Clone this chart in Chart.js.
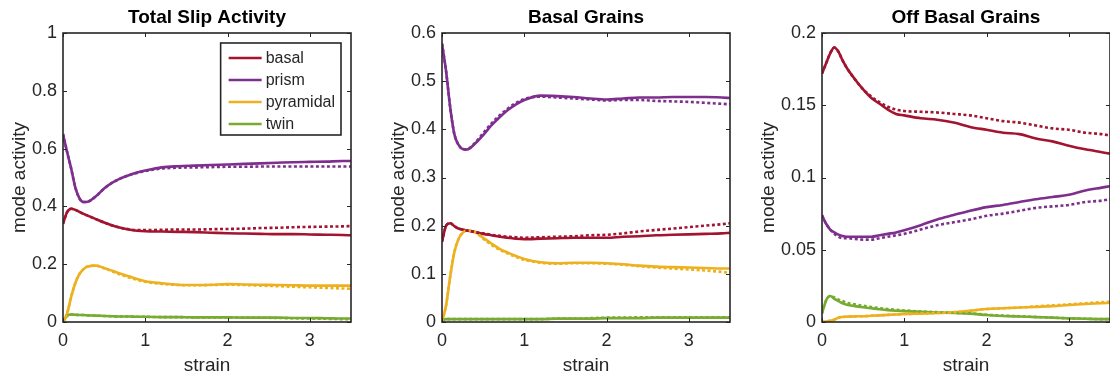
<!DOCTYPE html>
<html>
<head>
  <title>Slip Mode Activity</title>
  <script src="https://cdn.jsdelivr.net/npm/chart.js"></script>
  <style>
    body { margin: 0; width: 1110px; height: 377px; overflow: hidden; background: #fff; position: relative; }
    canvas { position: absolute; top: 0; }
  </style>
</head>
<body>
  <canvas id="totalChart"></canvas>
  <canvas id="basalChart"></canvas>
  <canvas id="offChart"></canvas>

<script>
// shared x values (strain) and tick labels
const strain = [0, 0.05, 0.1, 0.15, 0.2, 0.25, 0.3, 0.4, 0.5, 0.6, 0.7, 0.8, 0.9, 1.0,
  1.2, 1.4, 1.6, 1.8, 2.0, 2.2, 2.4, 2.6, 2.8, 3.0, 3.2, 3.4, 3.5];
const strainTicks = [0, 1, 2, 3];
const modes = ['basal', 'prism', 'pyramidal', 'twin'];
const modeColors = ['#A2142F', '#7E2F8E', '#EDB120', '#77AC30'];

// Total Slip Activity
const totalTicks = [0, 0.2, 0.4, 0.6, 0.8, 1];
const totalBasal = [0.34,0.38,0.392,0.388,0.381,0.374,0.368,0.356,0.344,0.334,0.326,0.32,0.316,0.314,0.313,0.312,0.311,0.309,0.307,0.306,0.305,0.304,0.304,0.303,0.302,0.301,0.300];
const totalBasalDot = [0.34,0.38,0.392,0.388,0.381,0.374,0.368,0.356,0.344,0.334,0.326,0.321,0.318,0.318,0.319,0.32,0.32,0.321,0.322,0.323,0.325,0.326,0.328,0.329,0.33,0.331,0.332];
const totalPrism = [0.65,0.588,0.53,0.465,0.428,0.415,0.416,0.435,0.462,0.482,0.497,0.508,0.517,0.524,0.535,0.539,0.541,0.543,0.545,0.547,0.549,0.551,0.553,0.554,0.555,0.557,0.557];
const totalPrismDot = [0.65,0.588,0.53,0.465,0.428,0.415,0.416,0.435,0.462,0.482,0.497,0.508,0.516,0.522,0.531,0.534,0.535,0.536,0.537,0.537,0.538,0.538,0.538,0.538,0.538,0.538,0.538];
const totalPyr = [0,0.03,0.088,0.135,0.166,0.183,0.192,0.195,0.187,0.177,0.167,0.158,0.149,0.141,0.134,0.129,0.128,0.129,0.131,0.13,0.129,0.128,0.127,0.126,0.126,0.126,0.126];
const totalPyrDot = [0,0.03,0.088,0.135,0.166,0.183,0.192,0.195,0.186,0.175,0.164,0.154,0.146,0.139,0.132,0.128,0.127,0.128,0.129,0.128,0.126,0.124,0.122,0.12,0.118,0.116,0.115];
const totalTwin = [0,0.022,0.026,0.025,0.024,0.024,0.023,0.022,0.021,0.02,0.019,0.019,0.018,0.018,0.017,0.017,0.016,0.016,0.016,0.015,0.015,0.015,0.014,0.014,0.013,0.012,0.012];
const totalTwinDot = [0,0.022,0.026,0.025,0.024,0.024,0.023,0.022,0.021,0.02,0.019,0.019,0.018,0.018,0.017,0.017,0.016,0.016,0.016,0.015,0.015,0.014,0.013,0.012,0.011,0.010,0.010];

// Basal Grains
const basalTicks = [0, 0.1, 0.2, 0.3, 0.4, 0.5, 0.6];
const basalBasal = [0.167,0.2,0.205,0.199,0.194,0.192,0.19,0.187,0.183,0.18,0.177,0.175,0.173,0.172,0.173,0.174,0.175,0.175,0.175,0.177,0.178,0.18,0.181,0.182,0.183,0.184,0.185];
const basalBasalDot = [0.167,0.2,0.205,0.199,0.194,0.192,0.19,0.187,0.184,0.181,0.179,0.177,0.176,0.175,0.176,0.177,0.178,0.18,0.181,0.184,0.188,0.191,0.194,0.197,0.2,0.203,0.205];
const basalPrism = [0.578,0.52,0.445,0.39,0.368,0.359,0.358,0.37,0.388,0.408,0.425,0.44,0.452,0.461,0.47,0.469,0.467,0.464,0.462,0.464,0.466,0.466,0.467,0.467,0.467,0.466,0.465];
const basalPrismDot = [0.578,0.52,0.445,0.39,0.368,0.359,0.358,0.372,0.392,0.412,0.429,0.443,0.455,0.463,0.468,0.466,0.464,0.462,0.46,0.461,0.461,0.459,0.458,0.457,0.455,0.453,0.452];
const basalPyr = [0,0.035,0.095,0.145,0.172,0.185,0.19,0.187,0.175,0.163,0.152,0.144,0.137,0.131,0.124,0.122,0.123,0.123,0.122,0.12,0.117,0.115,0.114,0.113,0.112,0.111,0.111];
const basalPyrDot = [0,0.035,0.095,0.145,0.172,0.185,0.19,0.187,0.173,0.16,0.15,0.142,0.135,0.129,0.123,0.121,0.122,0.122,0.121,0.119,0.116,0.113,0.111,0.109,0.107,0.104,0.102];
const basalTwin = [0.003,0.006,0.006,0.006,0.006,0.006,0.006,0.006,0.006,0.006,0.006,0.006,0.006,0.006,0.006,0.007,0.007,0.007,0.008,0.008,0.008,0.009,0.009,0.009,0.009,0.009,0.009];
const basalTwinDot = [0.003,0.006,0.006,0.006,0.006,0.006,0.006,0.006,0.006,0.006,0.006,0.006,0.006,0.006,0.006,0.007,0.007,0.008,0.009,0.009,0.01,0.01,0.01,0.01,0.01,0.01,0.01];

// Off Basal Grains
const offTicks = [0, 0.05, 0.1, 0.15, 0.2];
const offBasal = [0.172,0.179,0.186,0.19,0.187,0.181,0.176,0.168,0.161,0.155,0.151,0.147,0.144,0.143,0.141,0.14,0.138,0.135,0.133,0.131,0.13,0.127,0.125,0.122,0.1195,0.1175,0.1165];
const offBasalDot = [0.172,0.179,0.186,0.19,0.187,0.181,0.176,0.168,0.161,0.156,0.152,0.149,0.147,0.146,0.1455,0.145,0.144,0.143,0.141,0.139,0.138,0.136,0.134,0.133,0.131,0.13,0.129];
const offPrism = [0.0738,0.068,0.064,0.062,0.0605,0.0595,0.059,0.059,0.059,0.059,0.06,0.061,0.062,0.0635,0.067,0.071,0.074,0.077,0.0795,0.081,0.083,0.085,0.0865,0.088,0.091,0.093,0.094];
const offPrismDot = [0.0738,0.068,0.064,0.061,0.059,0.058,0.058,0.0575,0.057,0.057,0.058,0.059,0.06,0.061,0.064,0.067,0.069,0.071,0.0735,0.075,0.077,0.079,0.08,0.081,0.083,0.084,0.085];
const offPyr = [0,0.0003,0.0008,0.0016,0.003,0.0035,0.0037,0.0039,0.004,0.0043,0.0046,0.0049,0.0052,0.0055,0.0058,0.0062,0.0068,0.0078,0.009,0.0095,0.01,0.0105,0.011,0.0118,0.0125,0.013,0.0133];
const offPyrDot = [0,0.0003,0.0008,0.0016,0.003,0.0035,0.0037,0.0039,0.004,0.0043,0.0046,0.0049,0.0052,0.0055,0.0058,0.0062,0.0068,0.0078,0.009,0.0095,0.01,0.0108,0.0115,0.0122,0.013,0.0138,0.014];
const offTwin = [0.006,0.015,0.018,0.016,0.0145,0.013,0.012,0.011,0.0102,0.0095,0.0088,0.0082,0.0078,0.0075,0.007,0.0066,0.0062,0.0058,0.0048,0.0042,0.0038,0.0034,0.003,0.0025,0.0022,0.002,0.002];
const offTwinDot = [0.006,0.015,0.018,0.017,0.0155,0.0145,0.0133,0.0122,0.0112,0.0104,0.0096,0.009,0.0085,0.008,0.0073,0.0068,0.0064,0.006,0.005,0.0044,0.004,0.0035,0.003,0.0026,0.0023,0.002,0.002];

const FONT = '"Liberation Sans", Arial, Helvetica, sans-serif';
const INK = '#262626';
const PLOT_W = 288;

// matlab-like box with inward ticks on all four sides
const boxPlugin = {
  id: 'axesBox',
  afterDraw(chart) {
    const {ctx, chartArea: a, scales} = chart;
    ctx.save();
    ctx.strokeStyle = INK;
    ctx.lineWidth = 1;
    const tl = 4;
    ctx.beginPath();
    scales.x.ticks.forEach(t => {
      const px = Math.round(scales.x.getPixelForValue(t.value)) + 0.5;
      ctx.moveTo(px, a.bottom); ctx.lineTo(px, a.bottom - tl);
      ctx.moveTo(px, a.top); ctx.lineTo(px, a.top + tl);
    });
    scales.y.ticks.forEach(t => {
      const py = Math.round(scales.y.getPixelForValue(t.value)) + 0.5;
      ctx.moveTo(a.left, py); ctx.lineTo(a.left + tl, py);
      ctx.moveTo(a.right, py); ctx.lineTo(a.right - tl, py);
    });
    ctx.stroke();
    ctx.lineWidth = 1.6;
    ctx.strokeRect(a.left, a.top, a.right - a.left, a.bottom - a.top);
    ctx.restore();
  }
};

// legend drawn inside the upper right of the axes, from the solid datasets
const insideLegend = {
  id: 'insideLegend',
  afterDraw(chart, args, opts) {
    if (!opts.show) return;
    const {ctx, chartArea: a} = chart;
    const items = chart.data.datasets.filter(d => !d.borderDash);
    ctx.save();
    ctx.font = '16px ' + FONT;
    const textW = Math.max(...items.map(d => ctx.measureText(d.label).width));
    const w = 8 + 33 + 4 + textW + 6;
    const h = 15 + 22 * (items.length - 1) + 11;
    const x0 = a.right - 10 - w, y0 = a.top + 10;
    ctx.fillStyle = '#fff';
    ctx.fillRect(x0, y0, w, h);
    ctx.strokeStyle = INK;
    ctx.lineWidth = 1.6;
    ctx.strokeRect(x0, y0, w, h);
    ctx.textBaseline = 'middle';
    items.forEach((d, i) => {
      const y = y0 + 15 + i * 22;
      ctx.strokeStyle = d.borderColor;
      ctx.lineWidth = 2.5;
      ctx.beginPath();
      ctx.moveTo(x0 + 8, y); ctx.lineTo(x0 + 41, y);
      ctx.stroke();
      ctx.fillStyle = INK;
      ctx.fillText(d.label, x0 + 45, y + 1);
    });
    ctx.restore();
  }
};

function makePanel(id, left, yAxisW, labelPad, title, yMax, yTicks, solid, dotted, showLegend) {
  const canvas = document.getElementById(id);
  const w = yAxisW * 2 + PLOT_W;
  canvas.width = w; canvas.height = 377;
  canvas.style.left = left + 'px';
  canvas.style.width = w + 'px';
  canvas.style.height = '377px';

  const datasets = [];
  solid.forEach((vals, i) => datasets.push({
    label: modes[i], data: vals.map((v, k) => ({x: strain[k], y: v})),
    borderColor: modeColors[i], borderWidth: 2.6, pointRadius: 0,
    cubicInterpolationMode: 'monotone', order: 2
  }));
  dotted.forEach((vals, i) => datasets.push({
    label: modes[i] + ' (dotted)', data: vals.map((v, k) => ({x: strain[k], y: v})),
    borderColor: modeColors[i], borderWidth: 2.6, borderDash: [3, 2.5], pointRadius: 0,
    cubicInterpolationMode: 'monotone', order: 1
  }));

  new Chart(canvas.getContext('2d'), {
    type: 'line',
    data: { datasets },
    plugins: [boxPlugin, insideLegend],
    options: {
      responsive: false,
      animation: false,
      layout: { padding: 0 },
      plugins: {
        legend: { display: false },
        tooltip: { enabled: false },
        insideLegend: { show: showLegend },
        title: {
          display: true, text: title, color: '#000',
          font: { family: FONT, size: 19, weight: 'bold', lineHeight: 1.2 },
          padding: { top: 6, bottom: 4.2 }
        }
      },
      scales: {
        x: {
          type: 'linear', min: 0, max: 3.5,
          afterBuildTicks: s => { s.ticks = strainTicks.map(v => ({value: v})); },
          afterFit: s => { s.height = 55; },
          grid: { display: false, drawTicks: false }, border: { display: false },
          ticks: { color: INK, font: { family: FONT, size: 18 }, padding: 8, maxRotation: 0, callback: v => String(v) },
          title: { display: true, text: 'strain', color: INK, font: { family: FONT, size: 19, lineHeight: 1.2 }, padding: { top: 0, bottom: 0 } }
        },
        y: {
          type: 'linear', min: 0, max: yMax,
          afterBuildTicks: s => { s.ticks = yTicks.map(v => ({value: v})); },
          afterFit: s => { s.width = yAxisW; },
          grid: { display: false, drawTicks: false }, border: { display: false },
          ticks: { color: INK, font: { family: FONT, size: 18 }, padding: 6, callback: v => String(v) },
          title: { display: true, text: 'mode activity', color: INK, font: { family: FONT, size: 19, lineHeight: 1.2 }, padding: { top: labelPad, bottom: 0 } }
        },
        // empty right axis so the plot box (and title) sit centred in the canvas
        yRight: {
          type: 'linear', position: 'right', min: 0, max: yMax,
          afterFit: s => { s.width = yAxisW; },
          grid: { display: false, drawTicks: false }, border: { display: false },
          ticks: { display: false }
        }
      }
    }
  });
}

makePanel('totalChart', 0, 63, 8, 'Total Slip Activity', 1, totalTicks,
  [totalBasal, totalPrism, totalPyr, totalTwin],
  [totalBasalDot, totalPrismDot, totalPyrDot, totalTwinDot], true);
makePanel('basalChart', 370, 72, 17, 'Basal Grains', 0.6, basalTicks,
  [basalBasal, basalPrism, basalPyr, basalTwin],
  [basalBasalDot, basalPrismDot, basalPyrDot, basalTwinDot], false);
makePanel('offChart', 740, 82, 17, 'Off Basal Grains', 0.2, offTicks,
  [offBasal, offPrism, offPyr, offTwin],
  [offBasalDot, offPrismDot, offPyrDot, offTwinDot], false);
</script>
</body>
</html>
